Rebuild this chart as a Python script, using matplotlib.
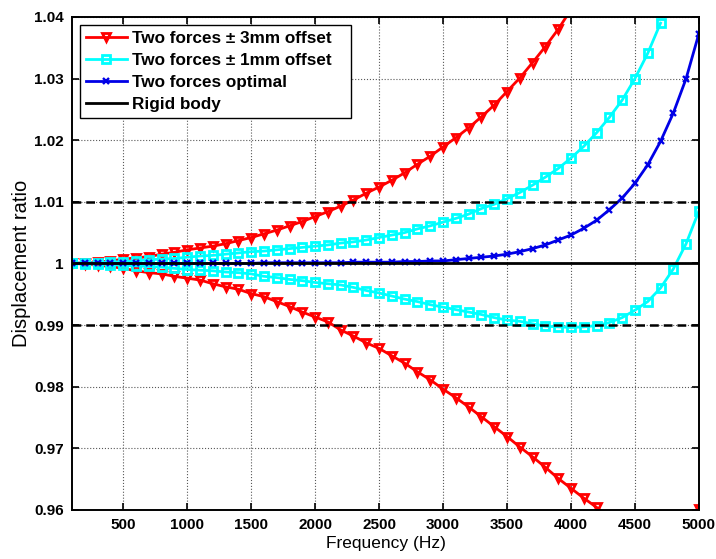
import numpy as np
import matplotlib
matplotlib.use("Agg")
import matplotlib.pyplot as plt
from matplotlib.ticker import FuncFormatter

plt.rcParams['font.family'] = ['Liberation Sans', 'DejaVu Sans']

freq = np.arange(100, 5001, 100)
nan = np.nan

offset3_upper = [1.0000, 1.0001, 1.0002, 1.0004, 1.0007, 1.0009, 1.0011, 1.0015, 1.0018, 1.0022,
                 1.0025, 1.0028, 1.0032, 1.0037, 1.0042, 1.0048, 1.0054, 1.0061, 1.0068, 1.0076,
                 1.0084, 1.0093, 1.0103, 1.0114, 1.0124, 1.0135, 1.0147, 1.0161, 1.0174, 1.0189,
                 1.0204, 1.0220, 1.0238, 1.0257, 1.0279, 1.0301, 1.0326, 1.0352, 1.0380, 1.0412,
                 nan, nan, nan, nan, nan, nan, nan, nan, nan, nan]
offset3_lower = [1.0000, 0.9999, 0.9997, 0.9995, 0.9992, 0.9988, 0.9985, 0.9983, 0.9979, 0.9976,
                 0.9973, 0.9967, 0.9962, 0.9958, 0.9951, 0.9946, 0.9938, 0.9930, 0.9921, 0.9913,
                 0.9905, 0.9892, 0.9882, 0.9871, 0.9862, 0.9850, 0.9838, 0.9824, 0.9811, 0.9796,
                 0.9782, 0.9767, 0.9751, 0.9735, 0.9719, 0.9702, 0.9686, 0.9669, 0.9651, 0.9635,
                 0.9619, 0.9604, 0.9588, 0.9573, 0.9560, 0.9550, 0.9545, 0.9550, 0.9568, 0.9602]
offset1_upper = [1.0000, 1.0001, 1.0001, 1.0002, 1.0003, 1.0004, 1.0006, 1.0007, 1.0008, 1.0010,
                 1.0012, 1.0013, 1.0015, 1.0017, 1.0019, 1.0020, 1.0022, 1.0024, 1.0026, 1.0028,
                 1.0030, 1.0033, 1.0035, 1.0038, 1.0042, 1.0046, 1.0050, 1.0056, 1.0061, 1.0067,
                 1.0073, 1.0080, 1.0089, 1.0096, 1.0105, 1.0115, 1.0127, 1.0140, 1.0154, 1.0171,
                 1.0190, 1.0212, 1.0237, 1.0265, 1.0300, 1.0341, 1.0390, nan, nan, nan]
offset1_lower = [1.0000, 0.9999, 0.9999, 0.9998, 0.9997, 0.9996, 0.9995, 0.9994, 0.9992, 0.9990,
                 0.9989, 0.9988, 0.9986, 0.9985, 0.9983, 0.9979, 0.9977, 0.9974, 0.9972, 0.9969,
                 0.9967, 0.9965, 0.9961, 0.9956, 0.9952, 0.9947, 0.9942, 0.9938, 0.9933, 0.9929,
                 0.9925, 0.9921, 0.9917, 0.9912, 0.9908, 0.9906, 0.9902, 0.9898, 0.9897, 0.9896,
                 0.9897, 0.9899, 0.9904, 0.9912, 0.9924, 0.9938, 0.9960, 0.9991, 1.0032, 1.0085]
optimal = [1.0000, 1.0000, 1.0000, 1.0000, 1.0000, 1.0000, 1.0000, 1.0000, 1.0000, 1.0000,
           1.0000, 1.0000, 1.0000, 1.0000, 1.0000, 1.0001, 1.0001, 1.0001, 1.0001, 1.0001,
           1.0001, 1.0001, 1.0002, 1.0002, 1.0002, 1.0002, 1.0003, 1.0003, 1.0004, 1.0004,
           1.0006, 1.0008, 1.0010, 1.0012, 1.0015, 1.0019, 1.0024, 1.0030, 1.0038, 1.0046,
           1.0057, 1.0070, 1.0087, 1.0106, 1.0130, 1.0160, 1.0198, 1.0244, 1.0300, 1.0373]
rigid_body = np.ones(len(freq))
tol_upper = 1.01
tol_lower = 0.99

labels = ['Two forces \u00b1 3mm offset', 'Two forces \u00b1 1mm offset',
          'Two forces optimal', 'Rigid body']
xticks = [500, 1000, 1500, 2000, 2500, 3000, 3500, 4000, 4500, 5000]
yticks = [0.96, 0.97, 0.98, 0.99, 1.0, 1.01, 1.02, 1.03, 1.04]

fig = plt.figure(figsize=(7.16, 5.59), dpi=100)
ax = fig.add_axes([0.1006, 0.0880, 0.8755, 0.8816])

lw = 2.0
mew = 2.0
h1, = ax.plot(freq, offset3_upper, color='red', lw=lw, marker='v', ms=6, mfc='none', mew=mew)
ax.plot(freq, offset3_lower, color='red', lw=lw, marker='v', ms=6, mfc='none', mew=mew)
h2, = ax.plot(freq, offset1_upper, color='cyan', lw=lw, marker='s', ms=5.5, mfc='none', mew=mew)
ax.plot(freq, offset1_lower, color='cyan', lw=lw, marker='s', ms=5.5, mfc='none', mew=mew)
h3, = ax.plot(freq, optimal, color='#0000e6', lw=lw, marker='x', ms=4.5, mew=1.7)
h4, = ax.plot(freq, rigid_body, color='black', lw=lw)
ax.axhline(tol_upper, color='black', lw=1.8, ls=(0, (3.5, 2)))
ax.axhline(tol_lower, color='black', lw=1.8, ls=(0, (3.5, 2)))

ax.set_xlim(100, 5000)
ax.set_ylim(0.96, 1.04)
ax.set_xticks(xticks)
ax.set_yticks(yticks)
ax.yaxis.set_major_formatter(FuncFormatter(lambda v, p: '%g' % round(v, 2)))
ax.grid(True, color='0.35', ls=':', lw=0.8)
ax.tick_params(direction='in', top=True, right=True, length=5, width=1.2,
               labelsize=11, pad=6)
for lab in ax.get_xticklabels() + ax.get_yticklabels():
    lab.set_fontweight('bold')
for s in ax.spines.values():
    s.set_linewidth(1.4)

ax.set_xlabel('Frequency (Hz)', fontsize=12.5, labelpad=3)
ax.set_ylabel('Displacement ratio', fontsize=14.5, labelpad=2)

leg = ax.legend([h1, h2, h3, h4], labels, loc='upper left',
                prop={'size': 12.3, 'weight': 'bold'},
                frameon=True, fancybox=False, edgecolor='black', framealpha=1,
                borderaxespad=0.45, handlelength=2.4, handletextpad=0.3,
                labelspacing=0.42, borderpad=0.35)
frame = leg.get_frame()
frame.set_linewidth(1.0)

# widen the legend frame on the right (extra right padding, as in the reference)
_orig_set_bounds = frame.set_bounds
def _wide_bounds(*args):
    if len(args) == 1:
        l, b, w, h = args[0]
    else:
        l, b, w, h = args
    _orig_set_bounds(l, b, w + 14, h)
frame.set_bounds = _wide_bounds

fig.savefig('out.png', dpi=100)
